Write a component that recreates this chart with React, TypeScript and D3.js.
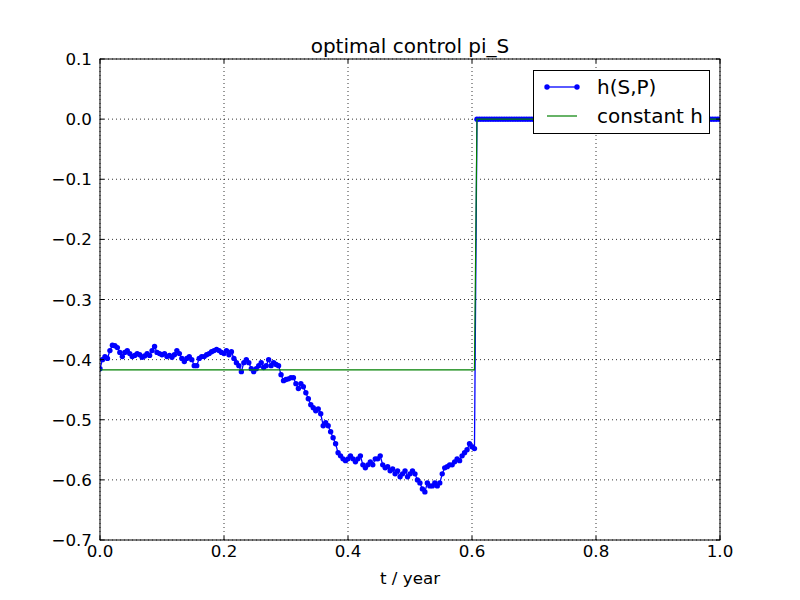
import React from "react";
import * as d3 from "d3";

const TITLE = "optimal control pi_S";
const X_LABEL = "t / year";
const T_STEP = 0.004;
const hSP: number[] = [
  -0.415, -0.4, -0.395, -0.398, -0.385, -0.376, -0.377, -0.38, -0.388, -0.395,
  -0.388, -0.385, -0.39, -0.395, -0.393, -0.39, -0.392, -0.396, -0.394, -0.39,
  -0.393, -0.385, -0.378, -0.388, -0.39, -0.392, -0.39, -0.395, -0.393, -0.396,
  -0.392, -0.385, -0.39, -0.398, -0.403, -0.398, -0.395, -0.4, -0.41, -0.41,
  -0.398, -0.395, -0.395, -0.392, -0.39, -0.387, -0.385, -0.383, -0.385, -0.388,
  -0.39, -0.385, -0.392, -0.387, -0.398, -0.405, -0.41, -0.42, -0.405, -0.4,
  -0.405, -0.415, -0.42, -0.415, -0.41, -0.405, -0.413, -0.41, -0.4, -0.41,
  -0.405, -0.408, -0.41, -0.425, -0.435, -0.433, -0.432, -0.43, -0.43, -0.44,
  -0.448, -0.44, -0.445, -0.455, -0.465, -0.475, -0.48, -0.485, -0.482, -0.49,
  -0.51, -0.505, -0.51, -0.52, -0.53, -0.54, -0.555, -0.56, -0.565, -0.568,
  -0.565, -0.56, -0.565, -0.57, -0.565, -0.56, -0.575, -0.58, -0.575, -0.57,
  -0.575, -0.565, -0.565, -0.56, -0.575, -0.58, -0.578, -0.585, -0.582, -0.59,
  -0.585, -0.595, -0.59, -0.585, -0.595, -0.59, -0.585, -0.59, -0.6, -0.605,
  -0.615, -0.62, -0.605, -0.61, -0.61, -0.605, -0.61, -0.605, -0.59, -0.58,
  -0.578, -0.575, -0.575, -0.57, -0.565, -0.568, -0.56, -0.555, -0.55, -0.54,
  -0.545, -0.548,
  0, 0, 0, 0, 0, 0, 0, 0, 0, 0, 0, 0, 0, 0, 0, 0, 0, 0, 0, 0,
  0, 0, 0, 0, 0, 0, 0, 0, 0, 0, 0, 0, 0, 0, 0, 0, 0, 0, 0, 0,
  0, 0, 0, 0, 0, 0, 0, 0, 0, 0, 0, 0, 0, 0, 0, 0, 0, 0, 0, 0,
  0, 0, 0, 0, 0, 0, 0, 0, 0, 0, 0, 0, 0, 0, 0, 0, 0, 0, 0, 0,
  0, 0, 0, 0, 0, 0, 0, 0, 0, 0, 0, 0, 0, 0, 0, 0, 0, 0, 0,
];
const constT = [0, 0.604, 0.608, 1.0];
const constH = [-0.417, -0.417, 0, 0];
const xTicks = [0, 0.2, 0.4, 0.6, 0.8, 1.0];
const yTicks = [0.1, 0, -0.1, -0.2, -0.3, -0.4, -0.5, -0.6, -0.7];
const legendLabels = ["h(S,P)", "constant h"];

const W = 800, H = 600;
const L = 100, R = 720, T = 59, B = 540;
const FONT = "DejaVu Sans";

export default function App() {
  const x = d3.scaleLinear().domain([0, 1]).range([L, R]);
  const y = d3.scaleLinear().domain([-0.7, 0.1]).range([B, T]);
  const pts = hSP.map((v, i) => [i * T_STEP, v] as [number, number]);
  const line = d3.line<[number, number]>().x(d => x(d[0])).y(d => y(d[1]));
  const cpts = constT.map((t, i) => [t, constH[i]] as [number, number]);
  const fmt = (v: number) => {
    const s = Math.abs(v).toFixed(1);
    return v < -1e-9 ? "\u2212" + s : s;
  };
  return (
    <svg width={W} height={H} style={{ position: "absolute", left: 0, top: 0, background: "#fff" }} fontFamily={FONT}>
      <rect x={0} y={0} width={W} height={H} fill="#fff" />
      <defs>
        <clipPath id="plotclip">
          <rect x={L} y={T} width={R - L} height={B - T} />
        </clipPath>
      </defs>
      {xTicks.map(t => (
        <line key={"gx" + t} x1={x(t)} x2={x(t)} y1={T} y2={B} stroke="#000" strokeWidth={0.8} strokeDasharray="1,3" />
      ))}
      {yTicks.map(t => (
        <line key={"gy" + t} x1={L} x2={R} y1={y(t)} y2={y(t)} stroke="#000" strokeWidth={0.8} strokeDasharray="1,3" />
      ))}
      <g clipPath="url(#plotclip)">
        <path d={line(pts) || ""} fill="none" stroke="#0000ff" strokeWidth={1.3} />
        {pts.map((p, i) => (
          <circle key={i} cx={x(p[0])} cy={y(p[1])} r={2.7} fill="#0000ff" />
        ))}
        <path d={line(cpts) || ""} fill="none" stroke="#008000" strokeWidth={1.2} />
      </g>
      {xTicks.map(t => (
        <g key={"tx" + t}>
          <line x1={x(t)} x2={x(t)} y1={B} y2={B - 4} stroke="#000" />
          <line x1={x(t)} x2={x(t)} y1={T} y2={T + 4} stroke="#000" />
          <text x={x(t)} y={557} fontSize={16.7} textAnchor="middle">{fmt(t)}</text>
        </g>
      ))}
      {yTicks.map(t => (
        <g key={"ty" + t}>
          <line x1={L} x2={L + 4} y1={y(t)} y2={y(t)} stroke="#000" />
          <line x1={R} x2={R - 4} y1={y(t)} y2={y(t)} stroke="#000" />
          <text x={92} y={y(t) + 6} fontSize={16.7} textAnchor="end">{fmt(t)}</text>
        </g>
      ))}
      <rect x={L} y={T} width={R - L} height={B - T} fill="none" stroke="#000" strokeWidth={1} />
      <text x={(L + R) / 2} y={53} fontSize={20} textAnchor="middle">{TITLE}</text>
      <text x={(L + R) / 2} y={584} fontSize={16.7} textAnchor="middle">{X_LABEL}</text>
      <g>
        <rect x={533.5} y={70.5} width={176} height={63} fill="#fff" stroke="#000" strokeWidth={1} />
        <line x1={547} x2={577} y1={87} y2={87} stroke="#0000ff" strokeWidth={1.3} />
        <circle cx={547} cy={87} r={2.7} fill="#0000ff" />
        <circle cx={577} cy={87} r={2.7} fill="#0000ff" />
        <text x={597} y={94} fontSize={20}>{legendLabels[0]}</text>
        <line x1={547} x2={577} y1={116} y2={116} stroke="#008000" strokeWidth={1.2} />
        <text x={597} y={123} fontSize={20}>{legendLabels[1]}</text>
      </g>
    </svg>
  );
}
